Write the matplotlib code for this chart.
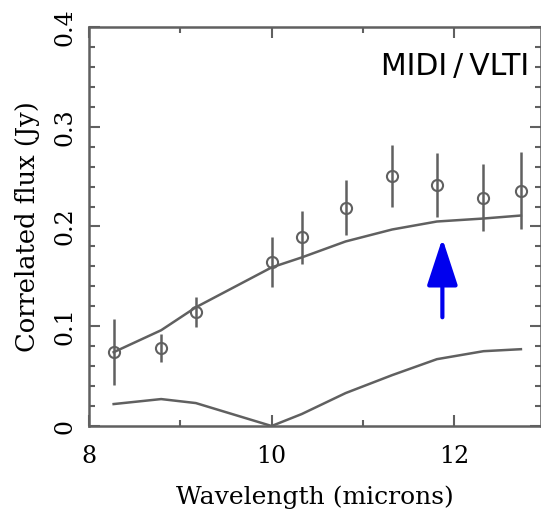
import numpy as np
import matplotlib.pyplot as plt
from matplotlib.ticker import MultipleLocator

# measured correlated flux (MIDI/VLTI)
wave = [8.27, 8.79, 9.17, 10.0, 10.33, 10.81, 11.32, 11.81, 12.32, 12.73]
flux = [0.074, 0.078, 0.114, 0.164, 0.189, 0.219, 0.251, 0.242, 0.229, 0.236]
flux_err = [0.033, 0.014, 0.015, 0.025, 0.027, 0.028, 0.031, 0.032, 0.034, 0.039]

# model curves
model_hi = [0.074, 0.096, 0.119, 0.159, 0.169, 0.185, 0.197, 0.205, 0.208, 0.211]
model_lo = [0.022, 0.027, 0.023, 0.0, 0.012, 0.033, 0.051, 0.067, 0.075, 0.077]

# arrow marking the feature
arrow_x = 11.87
arrow_y = [0.109, 0.184]

grey = '#606060'
serif = ['DejaVu Serif']

fig = plt.figure(figsize=(5.41, 5.15), dpi=100)
ax = fig.add_axes([0.1645, 0.1728, 0.8355, 0.7748])

ax.plot(wave, model_hi, color=grey, lw=1.8)
ax.plot(wave, model_lo, color=grey, lw=1.8)
ax.errorbar(wave, flux, yerr=flux_err, fmt='o', mfc='none', mec=grey, ms=8,
            mew=1.5, ecolor=grey, elinewidth=1.8, capsize=0)

ax.annotate('', xy=(arrow_x, arrow_y[1] + 0.004), xytext=(arrow_x, arrow_y[0]),
            arrowprops=dict(arrowstyle='-|>,head_length=2.9,head_width=0.95',
                            color='#0000ee', lw=3.0, shrinkA=0, shrinkB=0))

ax.text(0.973, 0.9, 'MIDI\u2009/\u2009VLTI', transform=ax.transAxes, ha='right',
        va='center', fontsize=21.5, family='DejaVu Sans')

ax.set_xlim(8, 12.95)
ax.set_ylim(0, 0.4)
ax.xaxis.set_major_locator(MultipleLocator(2))
ax.xaxis.set_minor_locator(MultipleLocator(1))
ax.yaxis.set_major_locator(MultipleLocator(0.1))
ax.yaxis.set_minor_locator(MultipleLocator(0.02))
ax.set_yticks([0, 0.1, 0.2, 0.3, 0.4])
ax.set_yticklabels(['0', '0.1', '0.2', '0.3', '0.4'], rotation=90, va='center')

ax.tick_params(which='both', direction='in', top=True, right=True, color=grey,
               width=1.5, labelsize=17, pad=9)
ax.tick_params(axis='x', which='both', pad=14)
ax.tick_params(which='major', length=8)
ax.tick_params(which='minor', length=4)
for lab in ax.get_xticklabels() + ax.get_yticklabels():
    lab.set_family(serif)
for sp in ax.spines.values():
    sp.set_color(grey)
    sp.set_linewidth(1.8)

ax.set_xlabel('Wavelength (microns)', family=serif, fontsize=18, labelpad=12)
ax.set_ylabel('Correlated flux (Jy)', family=serif, fontsize=18.5, labelpad=10)

fig.savefig('out.png', dpi=100)
